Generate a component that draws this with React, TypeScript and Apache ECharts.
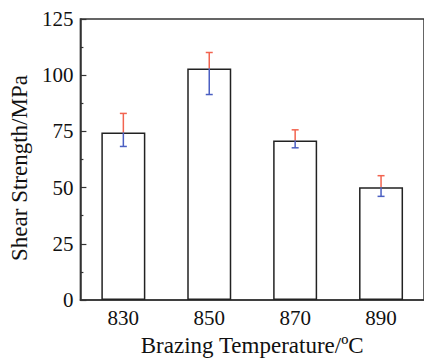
import React, { useEffect, useRef } from "react";
import * as echarts from "echarts";

const categories = ["830", "850", "870", "890"];
const strengths = [74.5, 103.0, 71.0, 50.2];
const errorHigh = [83.0, 110.1, 75.7, 55.3];
const errorLow = [68.3, 91.4, 67.7, 46.1];
const yTicks = { min: 0, max: 125, interval: 25 };

const FONT = "Liberation Serif";

export default function App() {
  const ref = useRef<HTMLDivElement>(null);
  useEffect(() => {
    if (!ref.current) return;
    const chart = echarts.init(ref.current, null, { renderer: "svg" });
    const errData = categories.map((_, i) => [i, strengths[i], errorLow[i], errorHigh[i]]);
    chart.setOption({
      animation: false,
      backgroundColor: "#ffffff",
      grid: {
        left: 78,
        top: 19,
        width: 349,
        height: 283,
        show: true,
        borderColor: "#333",
        borderWidth: 1.5,
        backgroundColor: "transparent",
      },
      xAxis: {
        type: "category",
        data: categories,
        axisLine: { lineStyle: { color: "#333", width: 1.5 } },
        axisTick: { show: false },
        axisLabel: { color: "#111", fontFamily: FONT, fontSize: 21, margin: 7 },
        name: "Brazing Temperature/ºC",
        nameLocation: "middle",
        nameGap: 34,
        nameTextStyle: { color: "#111", fontFamily: FONT, fontSize: 23 },
        splitLine: { show: false },
      },
      yAxis: {
        type: "value",
        min: yTicks.min,
        max: yTicks.max,
        interval: yTicks.interval,
        axisLine: { show: true, lineStyle: { color: "#333", width: 1.5 } },
        axisTick: { show: true, inside: true, length: 6, lineStyle: { color: "#333", width: 1.2 } },
        minorTick: { show: true, splitNumber: 2, length: 3, lineStyle: { color: "#333", width: 1.2 } },
        axisLabel: { color: "#111", fontFamily: FONT, fontSize: 21, margin: 7 },
        splitLine: { show: false },
        name: "Shear Strength/MPa",
        nameLocation: "middle",
        nameGap: 44,
        nameTextStyle: { color: "#111", fontFamily: FONT, fontSize: 23, padding: [0, 17, 0, 0] },
      },
      series: [
        {
          type: "bar",
          data: strengths,
          barWidth: 44,
          itemStyle: { color: "#ffffff", borderColor: "#222", borderWidth: 1.5 },
        },
        {
          type: "custom",
          data: errData,
          z: 10,
          renderItem: (params: any, api: any) => {
            const x = api.value(0);
            const v = api.coord([x, api.value(1)]);
            const lo = api.coord([x, api.value(2)]);
            const hi = api.coord([x, api.value(3)]);
            const cx = v[0];
            const half = 3.5;
            const red = "#f26450";
            const blue = "#4b5fc2";
            const w = 1.5;
            return {
              type: "group",
              children: [
                { type: "line", shape: { x1: cx, y1: v[1], x2: cx, y2: hi[1] }, style: { stroke: red, lineWidth: w } },
                { type: "line", shape: { x1: cx - half, y1: hi[1], x2: cx + half, y2: hi[1] }, style: { stroke: red, lineWidth: w } },
                { type: "line", shape: { x1: cx, y1: v[1], x2: cx, y2: lo[1] }, style: { stroke: blue, lineWidth: w } },
                { type: "line", shape: { x1: cx - half, y1: lo[1], x2: cx + half, y2: lo[1] }, style: { stroke: blue, lineWidth: w } },
              ],
            };
          },
        },
      ],
    });
    return () => chart.dispose();
  }, []);
  return <div ref={ref} style={{ width: 424, height: 362, position: "absolute", left: 0, top: 0 }} />;
}
